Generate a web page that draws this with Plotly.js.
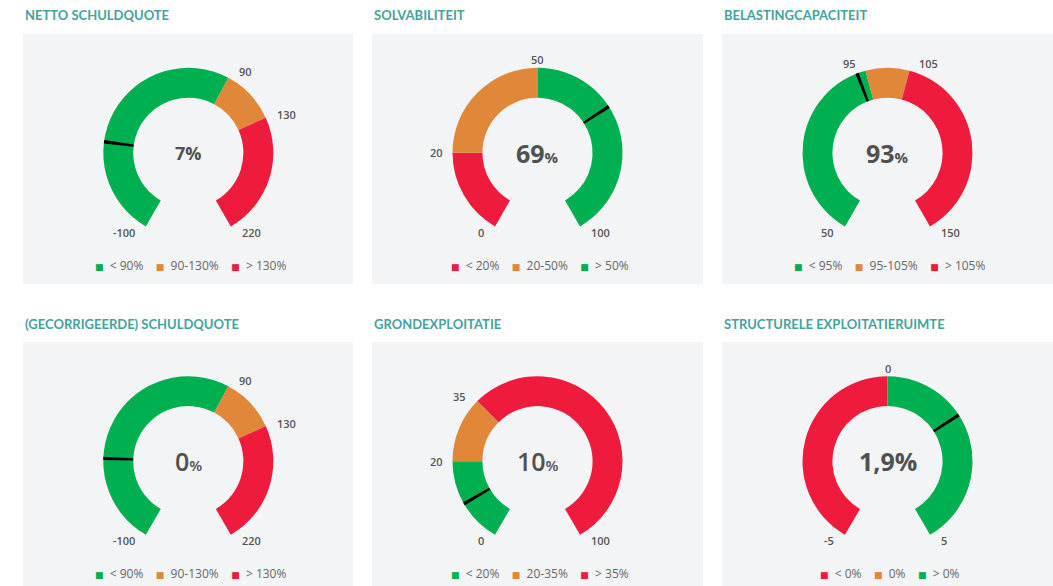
<!DOCTYPE html>
<html>
<head>
<meta charset="utf-8">
<script src="https://cdn.plot.ly/plotly-3.0.1.min.js"></script>
<style>
html,body{margin:0;padding:0;background:#fff;}
#chart{width:1053px;height:586px;}
</style>
</head>
<body>
<div id="chart"></div>
<script>
// ---------- DATA ----------
const titles = ['NETTO SCHULDQUOTE', 'SOLVABILITEIT', 'BELASTINGCAPACITEIT',
                '(GECORRIGEERDE) SCHULDQUOTE', 'GRONDEXPLOITATIE', 'STRUCTURELE EXPLOITATIERUIMTE'];
const bounds = [
  [-100, 90, 130, 220],
  [0, 20, 50, 100],
  [50, 95, 105, 150],
  [-100, 90, 130, 220],
  [0, 20, 35, 100],
  [-5, 0, 0, 5]
];
const legendLabels = [
  ['< 90%', '90-130%', '> 130%'],
  ['< 20%', '20-50%', '> 50%'],
  ['< 95%', '95-105%', '> 105%'],
  ['< 90%', '90-130%', '> 130%'],
  ['< 20%', '20-35%', '> 35%'],
  ['< 0%', '0%', '> 0%']
];
const bandKinds = [
  ['good', 'warn', 'bad'],
  ['bad', 'warn', 'good'],
  ['good', 'warn', 'bad'],
  ['good', 'warn', 'bad'],
  ['good', 'warn', 'bad'],
  ['bad', 'warn', 'good']
];
const valueTexts = ['7', '69', '93', '0', '10', '1,9'];
const needleValues = [-28, 69, 93, -34, 10, 1.9];

// ---------- STYLE / LAYOUT ----------
const W = 1053, H = 586;
const COLORS = {good: '#00b050', warn: '#e0873a', bad: '#ee1b3d'};
const colCx = [188.3, 537.5, 887.5];
const rowCy = [152.8, 461.2];
const boxX = [[23, 353], [372, 703], [722, 1053]];
const boxY = [[34, 284], [342, 600]];
const titleY = [15, 324];
const R = 85;             // outer radius px
const HOLE = 0.648;
const ARC = 300;          // degrees of arc
const pctSmall = [false, true, true, true, true, false];
const valueSize = [18, 25, 25, 25, 25, 25];
const valueWeight = [700, 700, 700, 600, 600, 700];
const FONT = 'Open Sans, Noto Sans, sans-serif';

const px = x => x / W;
const py = y => 1 - y / H;

const traces = [];
const annotations = [];
const shapes = [];

for (let i = 0; i < 6; i++) {
  const col = i % 3, row = Math.floor(i / 3);
  const cx = colCx[col], cy = rowCy[row];
  const b = bounds[i];
  const min = b[0], max = b[b.length - 1], range = max - min;
  const gap = range * (360 - ARC) / ARC;
  const domain = {x: [px(cx - R), px(cx + R)], y: [py(cy + R), py(cy - R)]};

  // panel background
  shapes.push({type: 'rect', xref: 'paper', yref: 'paper', layer: 'below',
    x0: px(boxX[col][0]), x1: px(boxX[col][1]), y0: py(boxY[row][1]), y1: py(boxY[row][0]),
    fillcolor: '#f3f4f6', line: {width: 0}});

  // title
  annotations.push({xref: 'paper', yref: 'paper', x: px(boxX[col][0]), y: py(titleY[row]),
    xanchor: 'left', yanchor: 'middle', showarrow: false,
    text: '<b>' + titles[i] + '</b>',
    font: {family: 'Lato, Open Sans, sans-serif', size: 13, color: '#43a39c'}});

  // bands
  const vals = [], cols = [];
  for (let k = 0; k < b.length - 1; k++) {
    vals.push(b[k + 1] - b[k]);
    cols.push(COLORS[bandKinds[i][k]]);
  }
  vals.push(gap); cols.push('rgba(0,0,0,0)');
  traces.push({type: 'pie', values: vals, sort: false, direction: 'clockwise',
    rotation: -ARC / 2, hole: HOLE, domain: domain, textinfo: 'none',
    hoverinfo: 'skip', showlegend: false,
    marker: {colors: cols, line: {width: 0}}});

  // needle
  const nw = range * 2.3 / ARC;
  const nv = needleValues[i];
  traces.push({type: 'pie', values: [nv - min - nw / 2, nw, max - nv - nw / 2, gap],
    sort: false, direction: 'clockwise', rotation: -ARC / 2, hole: HOLE, domain: domain,
    textinfo: 'none', hoverinfo: 'skip', showlegend: false,
    marker: {colors: ['rgba(0,0,0,0)', '#000000', 'rgba(0,0,0,0)', 'rgba(0,0,0,0)'], line: {width: 0}}});

  // tick labels at band boundaries
  const seen = new Set();
  b.forEach(v => {
    if (seen.has(v)) return;
    seen.add(v);
    const ang = (-ARC / 2 + (v - min) / range * ARC) * Math.PI / 180;
    const s = Math.sin(ang), c = Math.cos(ang);
    const rl = 92;
    let xa = 'center', xs = 0;
    if (s > 0.1) { xa = 'left'; xs = 1 + 5 * Math.abs(c); }
    else if (s < -0.1) { xa = 'right'; xs = -(1 + 5 * Math.abs(c)); }
    annotations.push({xref: 'paper', yref: 'paper',
      x: px(cx + rl * s), y: py(cy - rl * c - (Math.abs(s) < 0.1 ? 1 : 0)),
      xanchor: xa, yanchor: 'middle', xshift: xs, showarrow: false,
      text: String(v), font: {family: FONT, size: 11, color: '#555555', weight: 600}});
  });

  // center value
  const pct = pctSmall[i]
    ? '<span style="font-size:' + Math.round(valueSize[i] * 0.6) + 'px">%</span>'
    : '%';
  annotations.push({xref: 'paper', yref: 'paper', x: px(cx), y: py(cy), xanchor: 'center', yanchor: 'middle',
    showarrow: false, text: valueTexts[i] + pct,
    font: {family: FONT, size: valueSize[i], color: '#505050', weight: valueWeight[i]}});

  // legend
  const NB = '\u00A0';
  const parts = legendLabels[i].map((lab, k) =>
    '<span style="color:' + COLORS[bandKinds[i][k]] + ';font-size:9px;font-family:DejaVu Sans">\u25A0</span>' +
    NB + NB + lab);
  annotations.push({xref: 'paper', yref: 'paper', x: px(cx + 2), y: py(cy + 112.5), xanchor: 'center', yanchor: 'middle',
    showarrow: false, text: parts.join(NB + NB + NB + NB),
    font: {family: FONT, size: 12, color: '#666666'}});
}

Plotly.newPlot('chart', traces, {
  width: W, height: H,
  margin: {l: 0, r: 0, t: 0, b: 0},
  paper_bgcolor: '#ffffff',
  plot_bgcolor: '#ffffff',
  showlegend: false,
  shapes: shapes,
  annotations: annotations
}, {staticPlot: true, displayModeBar: false});
</script>
</body>
</html>
